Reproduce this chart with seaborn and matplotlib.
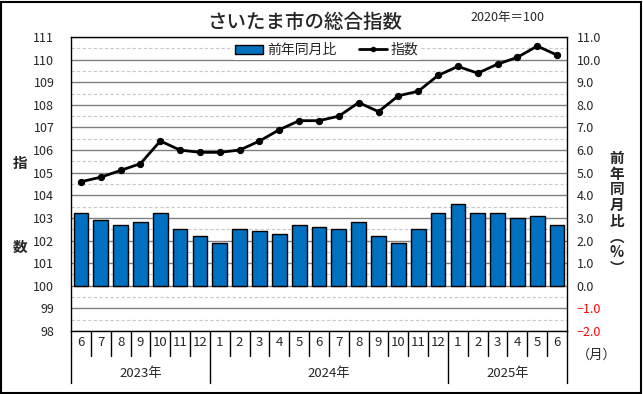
import numpy as np
import pandas as pd
import matplotlib
matplotlib.use("Agg")
import matplotlib.pyplot as plt
from matplotlib.lines import Line2D
from matplotlib.patches import Rectangle
import matplotlib.transforms as mtransforms
import seaborn as sns

# ---- data ----
years = ["2023"] * 7 + ["2024"] * 12 + ["2025"] * 6
months = [6, 7, 8, 9, 10, 11, 12,
          1, 2, 3, 4, 5, 6, 7, 8, 9, 10, 11, 12,
          1, 2, 3, 4, 5, 6]
index_vals = [104.6, 104.8, 105.1, 105.4, 106.4, 106.0, 105.9,
              105.9, 106.0, 106.4, 106.9, 107.3, 107.3, 107.5, 108.1, 107.7,
              108.4, 108.6, 109.3,
              109.7, 109.4, 109.8, 110.1, 110.6, 110.2]
yoy_vals = [3.2, 2.9, 2.7, 2.8, 3.2, 2.5, 2.2,
            1.9, 2.5, 2.4, 2.3, 2.7, 2.6, 2.5, 2.8, 2.2, 1.9, 2.5, 3.2,
            3.6, 3.2, 3.2, 3.0, 3.1, 2.7]
year_labels = ["2023年", "2024年", "2025年"]
left_ticks = list(range(98, 112))
right_ticks = [-2.0, -1.0, 0.0, 1.0, 2.0, 3.0, 4.0, 5.0, 6.0, 7.0, 8.0, 9.0, 10.0, 11.0]

sns.set_style("white")
plt.rcParams['font.family'] = ['Noto Sans CJK JP', 'DejaVu Sans']

df = pd.DataFrame({
    "key": [f"{y}-{m}" for y, m in zip(years, months)],
    "pos": np.arange(len(months)),
    "index": index_vals,
    "yoy": yoy_vals,
})

W, H = 643, 394
fig = plt.figure(figsize=(W / 100, H / 100), dpi=100)
L, R, T, B = 71, 567, 37, 331
ax = fig.add_axes([L / W, 1 - B / H, (R - L) / W, (B - T) / H])

# bars on primary axis (percent scale, shown on the right)
sns.barplot(data=df, x="key", y="yoy", ax=ax, color="#0070C0", width=0.74,
            edgecolor="black", linewidth=1, saturation=1, zorder=3)
if ax.get_legend():
    ax.get_legend().remove()
ax2 = ax.twinx()

ax.set_ylim(-2, 11)
ax.set_xlim(-0.5, len(months) - 0.5)
ax.set_yticks(right_ticks)
ax.set_yticks(np.arange(-1.5, 11, 1.0), minor=True)
ax.yaxis.tick_right()
ax.set_yticklabels([f"{v:.1f}".replace("-", "−") for v in right_ticks])
for lbl, v in zip(ax.get_yticklabels(), right_ticks):
    if v < 0:
        lbl.set_color("red")
ax.tick_params(axis="y", which="both", length=0, pad=7, labelsize=9)
ax.grid(axis="y", which="major", color="#808080", linewidth=1, zorder=0)
ax.grid(axis="y", which="minor", color="#C8C8C8", linewidth=0.8,
        linestyle=(0, (3, 2)), zorder=0)
ax.set_axisbelow(True)
ax.set_xticks([])
ax.set_xlabel("")
ax.set_ylabel("")
for s in ax.spines.values():
    s.set_color("black")
    s.set_linewidth(1)

# line on twin axis (index scale, shown on the left)
sns.lineplot(data=df, x="pos", y="index", ax=ax2, color="black", linewidth=2,
             marker="o", markersize=4.5, markeredgecolor="black", zorder=5)
ax2.set_ylim(98, 111)
ax2.set_xlim(-0.5, len(months) - 0.5)
ax2.set_yticks(left_ticks)
ax2.yaxis.tick_left()
ax2.tick_params(axis="y", length=0, pad=12, labelsize=9)
ax2.set_xlabel("")
ax2.set_ylabel("")
ax2.set_xticks([])
for s in ax2.spines.values():
    s.set_visible(False)

# legend
handles = [Rectangle((0, 0), 1, 1, facecolor="#0070C0", edgecolor="black", linewidth=1),
           Line2D([0], [0], color="black", linewidth=2, marker="o", markersize=3)]
leg = ax2.legend(handles, ["前年同月比", "指数"], loc="center",
                 bbox_to_anchor=((327 - L) / (R - L), (B - 50) / (B - T)),
                 ncol=2, frameon=True, fontsize=10, handlelength=2.0,
                 handletextpad=0.3, columnspacing=1.6, borderpad=0.2,
                 handleheight=0.6)
leg.get_frame().set_facecolor("white")
leg.get_frame().set_edgecolor("none")
leg.get_frame().set_alpha(1)
leg.set_zorder(10)

# category axis (two-level)
trans = mtransforms.blended_transform_factory(ax.transData, ax.transAxes)
ph = B - T
m_depth = -(356 - B) / ph
y_depth = -(383 - B) / ph
year_bounds = [0, 7, 19, 25]
for i in range(len(months) + 1):
    depth = y_depth if i in year_bounds else m_depth
    ax.add_line(Line2D([i - 0.5, i - 0.5], [0, depth], transform=trans,
                       color="black", linewidth=1, clip_on=False))
for i, m in enumerate(months):
    ax.text(i, -(343 - B) / ph, str(m), transform=trans, ha="center", va="center",
            fontsize=9.5, clip_on=False)
for k, lab in enumerate(year_labels):
    c = (year_bounds[k] + year_bounds[k + 1] - 1) / 2
    ax.text(c, -(373 - B) / ph, lab, transform=trans, ha="center", va="center",
            fontsize=9.5, clip_on=False)

# texts
fig.text(305 / W, 1 - 22 / H, "さいたま市の総合指数", ha="center", va="center",
         fontsize=14, fontweight="medium")
fig.text(507 / W, 1 - 17 / H, "2020年＝100", ha="center", va="center", fontsize=9)
fig.text(20 / W, 1 - 163 / H, "指", ha="center", va="center", fontsize=10.5,
         fontweight="bold")
fig.text(20 / W, 1 - 247 / H, "数", ha="center", va="center", fontsize=10.5,
         fontweight="bold")
fig.text(617 / W, 1 - 213 / H, "前\n年\n同\n月\n比\n︵\n%\n︶", ha="center",
         va="center", fontsize=10.5, fontweight="bold", linespacing=0.98)
fig.text(597 / W, 1 - 355 / H, "（月）", ha="center", va="center", fontsize=9.5)

# outer border
fig.add_artist(Rectangle((1 / W, 1 / H), (W - 3) / W, (H - 3) / H,
                         transform=fig.transFigure, fill=False,
                         edgecolor="black", linewidth=1.5))

fig.savefig("out.png", dpi=100)
